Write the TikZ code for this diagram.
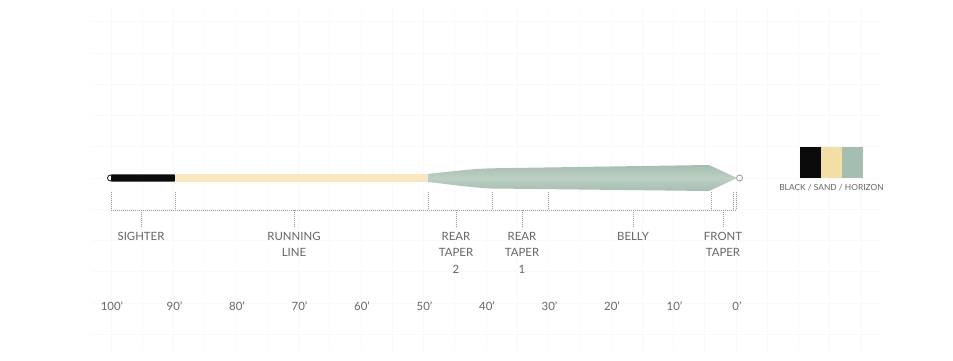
\documentclass[tikz,border=0pt]{standalone}
\usepackage{fontspec}
\setmainfont{Lato}
\usetikzlibrary{positioning}
\definecolor{labelgray}{HTML}{666666}
\definecolor{dotgray}{HTML}{9A9A9A}
\definecolor{sighterblack}{HTML}{0B0B0B}
\definecolor{sand}{HTML}{F8E7C0}
\definecolor{sandswatch}{HTML}{F3DFA5}
\definecolor{horizon}{HTML}{A6BEB0}
\definecolor{horizonlight}{HTML}{BCCFC4}
\tikzset{
  gridline/.style={draw=black!2.5, line width=0.7pt},
  dotline/.style={draw=dotgray, line width=0.75pt, dash pattern=on 0.75pt off 1.25pt},
  part/.style={text=labelgray, font=\fontsize{11.4}{16.5}\selectfont, align=center, anchor=north, inner sep=0pt},
  feet/.style={text=labelgray, font=\fontsize{11.4}{13}\selectfont, anchor=base, inner sep=0pt},
  swatch/.style={minimum width=21pt, minimum height=31pt, inner sep=0pt, outer sep=0pt},
}
\begin{document}
\begin{tikzpicture}[x=1pt, y=-1pt]
 \useasboundingbox (0,0) rectangle (953,361);
 \foreach \k in {0,...,24} \draw[gridline] (111+31.25*\k,10) -- (111+31.25*\k,350);
 \foreach \k in {-5,...,5} \draw[gridline] (92,178+31.25*\k) -- (880,178+31.25*\k);

 \draw[sighterblack, line width=0.8pt, fill=white] (110.5,178) circle (3);
 \draw[dotgray, line width=0.8pt, fill=white] (739.5,178) circle (3);
 \fill[sighterblack, rounded corners=0.8pt] (111,174.3) rectangle (175,181.7);
 \fill[sand] (175,174) rectangle (429,182);
 \shade[top color=horizon, bottom color=horizon, middle color=horizonlight]
   (428,174) .. controls (455,171) and (470,169) .. (492,168.3) -- (709,165) -- (737,178)
   -- (709,191) -- (492,188.5) .. controls (470,187.5) and (455,185) .. (428,182) -- cycle;

 \coordinate (base) at (0,210);
 \foreach \x [count=\i] in {111,175,428,492,548,711,733,736} {
   \coordinate (up\i) at (\x,192);
   \draw[dotline] (up\i) -- (up\i |- base);
 }
 \draw[dotline] (up1 |- base) -- (up8 |- base);

 \node[part] (sighter) at (141,232) {SIGHTER};
 \node[part] (running) at (294,232) {RUNNING\\LINE};
 \node[part] (rear2)   at (456,232) {REAR\\TAPER\\2};
 \node[part] (rear1)   at (522,232) {REAR\\TAPER\\1};
 \node[part] (belly)   at (633,232) {BELLY};
 \node[part] (front)   at (723,232) {FRONT\\TAPER};
 \foreach \n in {sighter,running,rear2,rear1,belly,front}
   \draw[dotline] (\n.north |- base) -- ([yshift=4pt]\n.north);

 \foreach \d [count=\i from 0] in {100,90,80,70,60,50,40,30,20,10,0}
   \node[feet] (f\d) at (112+62.5*\i,310) {\d’};

 \node[swatch, fill=sighterblack, anchor=north west] (blk) at (800,147) {};
 \node[swatch, fill=sandswatch, right=0pt of blk] (snd) {};
 \node[swatch, fill=horizon, right=0pt of snd] (hzn) {};
 \node[below=6pt of snd, inner sep=0pt, text=labelgray, font=\fontsize{8.4}{10}\selectfont] (legend) {BLACK / SAND / HORIZON};
\end{tikzpicture}
\end{document}
